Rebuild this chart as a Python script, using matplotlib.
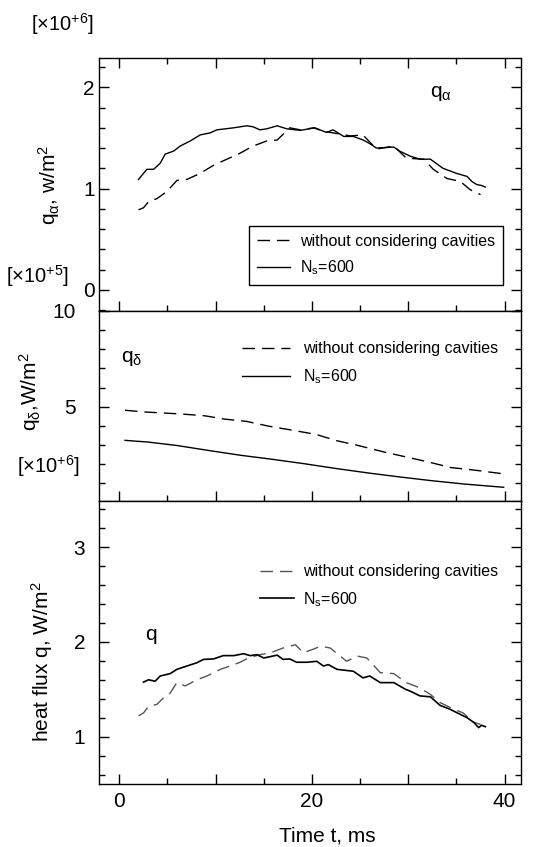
"""
Heat flux panels: q_alpha, q_delta and total q vs time, with and without cavities.
"""
import matplotlib
matplotlib.use("Agg")
import matplotlib.pyplot as plt
from matplotlib.ticker import MultipleLocator, FixedLocator, FixedFormatter

plt.rcParams.update({
    "font.family": "Liberation Sans",
    "mathtext.fontset": "custom",
    "mathtext.rm": "Liberation Sans",
    "mathtext.it": "Liberation Sans:italic",
    "mathtext.sf": "Liberation Sans",
    "axes.linewidth": 1.0,
})

# ── Data ──────────────────────────────────────────────────────────────────────
# top panel: q_alpha [x1e6 W/m2]
qa_t_ns = [2.0, 2.87, 3.56, 4.25, 4.77, 5.64, 6.33, 7.37, 8.40, 9.44, 10.13, 11.86,
           13.24, 13.9, 14.6, 15.3, 16.4, 17.4, 18.8, 20.3, 21.5, 22.2, 23.3, 24.3,
           25.3, 25.9, 26.7, 28.5, 29.1, 30.2, 31.2, 32.3, 33.6, 35.0, 36.1, 36.6,
           37.1, 37.6, 38.0]
qa_ns = [1.09, 1.19, 1.19, 1.25, 1.34, 1.37, 1.42, 1.47, 1.53, 1.55, 1.58, 1.60,
         1.62, 1.61, 1.58, 1.59, 1.62, 1.59, 1.575, 1.60, 1.555, 1.58, 1.515, 1.515,
         1.48, 1.45, 1.40, 1.41, 1.37, 1.32, 1.29, 1.29, 1.20, 1.15, 1.12, 1.07,
         1.04, 1.03, 1.015]
qa_t_nc = [2.0, 2.52, 3.04, 3.9, 4.94, 5.98, 7.02, 8.40, 9.79, 11.17, 12.55, 13.9,
           15.3, 16.4, 17.7, 18.8, 20.2, 21.2, 22.2, 24.0, 25.3, 26.7, 28.5, 29.8,
           31.6, 32.6, 34.0, 35.4, 36.4, 37.5]
qa_nc = [0.79, 0.81, 0.87, 0.90, 0.97, 1.08, 1.09, 1.15, 1.23, 1.29, 1.35, 1.42,
         1.47, 1.48, 1.60, 1.58, 1.60, 1.565, 1.55, 1.52, 1.53, 1.39, 1.42, 1.30,
         1.29, 1.19, 1.10, 1.07, 0.99, 0.94]

# middle panel: q_delta [x1e5 W/m2]
qd_t_nc = [0.6, 2.65, 6.6, 8.9, 10.9, 13.2, 15.6, 18.2, 20.5, 22.5, 24.8, 27.5,
           29.8, 32.1, 34.4, 36.8, 39.6]
qd_nc = [4.82, 4.73, 4.62, 4.53, 4.36, 4.24, 3.98, 3.76, 3.55, 3.24, 2.98, 2.64,
         2.38, 2.12, 1.83, 1.70, 1.52]
qd_t_ns = [0.6, 3.0, 6.0, 9.3, 12.6, 15.9, 19.2, 22.5, 25.8, 29.1, 32.5, 35.8, 39.9]
qd_ns = [3.25, 3.16, 2.98, 2.72, 2.47, 2.26, 2.03, 1.78, 1.55, 1.34, 1.14, 0.97, 0.80]

# bottom panel: heat flux q [x1e6 W/m2]
q_t_ns = [2.52, 3.04, 3.73, 4.25, 5.29, 5.98, 7.02, 8.06, 8.75, 9.79, 10.8, 11.9,
          12.9, 13.6, 14.3, 15.0, 16.4, 17.0, 17.7, 18.4, 19.5, 20.5, 21.2, 21.7,
          22.6, 24.3, 25.3, 26.0, 27.1, 28.5, 29.1, 29.7, 30.2, 31.2, 32.3, 33.3,
          34.3, 35.4, 36.1, 36.8, 37.3, 37.6, 38.0]
q_ns = [1.575, 1.60, 1.585, 1.64, 1.665, 1.71, 1.745, 1.78, 1.815, 1.82, 1.855, 1.855,
        1.875, 1.855, 1.865, 1.83, 1.86, 1.815, 1.82, 1.785, 1.785, 1.795, 1.745, 1.76,
        1.71, 1.69, 1.62, 1.64, 1.57, 1.57, 1.535, 1.50, 1.48, 1.43, 1.42, 1.33,
        1.29, 1.235, 1.20, 1.15, 1.095, 1.12, 1.105]
q_t_nc = [2.0, 2.52, 3.04, 3.9, 4.6, 5.29, 5.98, 6.85, 8.06, 9.1, 10.5, 11.5, 12.55,
          13.4, 14.6, 15.7, 17.0, 18.3, 19.1, 20.2, 20.9, 21.9, 23.6, 24.7, 25.7,
          27.1, 28.5, 29.8, 31.2, 32.3, 33.3, 34.7, 35.7, 36.8, 37.5]
q_nc = [1.22, 1.25, 1.32, 1.34, 1.41, 1.46, 1.57, 1.535, 1.60, 1.64, 1.71, 1.745, 1.785,
        1.83, 1.865, 1.885, 1.935, 1.97, 1.885, 1.925, 1.955, 1.935, 1.795, 1.85, 1.83,
        1.675, 1.665, 1.57, 1.515, 1.445, 1.36, 1.29, 1.25, 1.15, 1.13]

LBL_NC = "without considering cavities"
LBL_NS = r"N$_\mathregular{s}$=600"

# ── Figure ────────────────────────────────────────────────────────────────────
W, H = 545, 847
fig = plt.figure(figsize=(W / 100, H / 100), dpi=100)

def ax_at(x0, y0, x1, y1):
    return fig.add_axes([x0 / W, 1 - y1 / H, (x1 - x0) / W, (y1 - y0) / H])

ax1 = ax_at(99, 58, 521, 311)
ax2 = ax_at(99, 311, 521, 500.7)
ax3 = ax_at(99, 500.7, 521, 784)

DASH = (0, (9, 5))
ax1.plot(qa_t_nc, qa_nc, color="black", lw=1.0, ls=DASH, label=LBL_NC)
ax1.plot(qa_t_ns, qa_ns, color="black", lw=1.0, label=LBL_NS)
ax2.plot(qd_t_nc, qd_nc, color="black", lw=1.0, ls=DASH, label=LBL_NC)
ax2.plot(qd_t_ns, qd_ns, color="black", lw=1.0, label=LBL_NS)
ax3.plot(q_t_nc, q_nc, color="#555555", lw=1.0, ls=DASH, label=LBL_NC)
ax3.plot(q_t_ns, q_ns, color="black", lw=1.2, label=LBL_NS)

for ax in (ax1, ax2, ax3):
    ax.set_xlim(-2.1, 41.7)
    ax.xaxis.set_major_locator(MultipleLocator(10))
    ax.xaxis.set_minor_locator(MultipleLocator(5))
    ax.tick_params(which="both", direction="in", right=True, labelsize=15, width=1.0)
    ax.tick_params(which="major", length=7)
    ax.tick_params(which="minor", length=4)
    ax.xaxis.set_major_formatter(FixedFormatter([]))

ax1.tick_params(axis="x", which="both", top=True)
ax3.xaxis.set_major_locator(FixedLocator([0, 10, 20, 30, 40]))
ax3.xaxis.set_major_formatter(FixedFormatter(["0", "", "20", "", "40"]))
ax3.tick_params(axis="x", pad=6)

ax1.set_ylim(-0.21, 2.29)
ax1.yaxis.set_major_locator(MultipleLocator(1))
ax1.yaxis.set_minor_locator(MultipleLocator(0.2))
ax1.tick_params(axis="y", pad=3)

ax2.set_ylim(0.1, 10)
ax2.yaxis.set_major_locator(FixedLocator([5, 10]))
ax2.yaxis.set_minor_locator(MultipleLocator(1))
ax2.tick_params(axis="y", pad=17)

ax3.set_ylim(0.5, 3.49)
ax3.yaxis.set_major_locator(MultipleLocator(1))
ax3.yaxis.set_minor_locator(MultipleLocator(0.2))
ax3.tick_params(axis="y", pad=10)

# axis labels
ax1.set_ylabel(r"q$_\mathrm{\alpha}$, w/m$^2$", fontsize=15)
ax1.yaxis.set_label_coords(-0.088, 0.5)
ax2.set_ylabel(r"q$_\mathrm{\delta}$,W/m$^2$", fontsize=15)
ax2.yaxis.set_label_coords(-0.133, 0.573)
ax3.set_ylabel(r"heat flux q, W/m$^2$", fontsize=15)
ax3.yaxis.set_label_coords(-0.104, 0.43)
ax3.set_xlabel("Time t, ms", fontsize=15)
ax3.xaxis.set_label_coords(0.54, -0.15)

# panel tags
ax1.text(0.784, 0.846, r"q$_\mathrm{\alpha}$", transform=ax1.transAxes, fontsize=15,
         va="baseline")
ax2.text(0.051, 0.733, r"q$_\mathrm{\delta}$", transform=ax2.transAxes, fontsize=15,
         va="baseline")
ax3.text(0.109, 0.508, "q", transform=ax3.transAxes, fontsize=15, va="baseline")

# scale factors
fig.text(31 / W, 1 - 31 / H, r"[$\times$10$^{+6}$]", fontsize=14.5, va="baseline")
fig.text(6 / W, 1 - 283 / H, r"[$\times$10$^{+5}$]", fontsize=14.5, va="baseline")
fig.text(17 / W, 1 - 473 / H, r"[$\times$10$^{+6}$]", fontsize=14.5, va="baseline")

# legends
leg1 = ax1.legend(loc="lower right", bbox_to_anchor=(0.957, 0.103), fontsize=11.5,
                  frameon=True, fancybox=False, edgecolor="black", framealpha=1,
                  handlelength=2.1, handletextpad=0.6, borderpad=0.5, labelspacing=0.6,
                  borderaxespad=0)
leg1.get_frame().set_linewidth(1.0)
ax2.legend(loc="upper left", bbox_to_anchor=(0.339, 0.84), fontsize=11.5, frameon=False,
           handlelength=3.0, handletextpad=0.8, borderpad=0, borderaxespad=0,
           labelspacing=0.7)
ax3.legend(loc="upper left", bbox_to_anchor=(0.3815, 0.775), fontsize=11.5, frameon=False,
           handlelength=2.1, handletextpad=0.6, borderpad=0, borderaxespad=0,
           labelspacing=0.65)

fig.savefig("out.png", dpi=100)
